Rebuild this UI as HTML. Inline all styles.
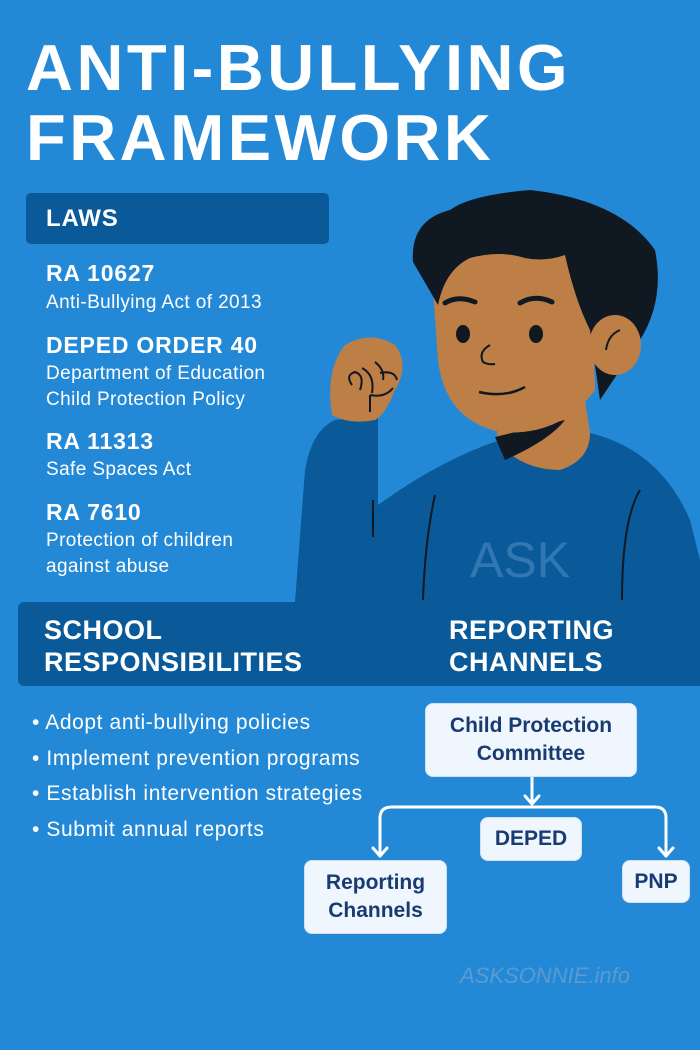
<!DOCTYPE html>
<html><head><meta charset="utf-8"><style>
body{margin:0;width:700px;height:1050px;overflow:hidden;background:#2389d7;font-family:"Liberation Sans",sans-serif;color:#fff;position:relative}
.a{position:absolute;white-space:nowrap}
.t{font-weight:bold;font-size:65px;left:26px;letter-spacing:3.5px}
.h{font-weight:bold;font-size:23px;letter-spacing:0.8px}
.s{font-size:19px;line-height:26px;letter-spacing:0.4px}
.box{position:absolute;background:#f0f6fd;border-radius:8px;color:#183c72;font-weight:bold;font-size:21px;text-align:center;display:flex;align-items:center;justify-content:center;line-height:28px;border:1.5px solid #cfe2f5}
</style></head><body>
<div class="a t" style="top:30px">ANTI-BULLYING</div>
<div class="a t" style="top:100px">FRAMEWORK</div>
<div class="a" style="left:26px;top:193px;width:303px;height:51px;background:#0a5a9a;border-radius:5px"></div>
<div class="a h" style="left:46px;top:205px;font-size:24px">LAWS</div>
<div class="a h" style="left:46px;top:260px">RA 10627</div>
<div class="a s" style="left:46px;top:290px">Anti-Bullying Act of 2013</div>
<div class="a h" style="left:46px;top:332px">DEPED ORDER 40</div>
<div class="a s" style="left:46px;top:361px">Department of Education<br>Child Protection Policy</div>
<div class="a h" style="left:46px;top:428px">RA 11313</div>
<div class="a s" style="left:46px;top:457px">Safe Spaces Act</div>
<div class="a h" style="left:46px;top:499px">RA 7610</div>
<div class="a s" style="left:46px;top:528px">Protection of children<br>against abuse</div>

<svg class="a" style="left:0;top:0" width="700" height="700" viewBox="0 0 700 700">
<path d="M295 602 L305 470 Q312 430 335 420 L378 415 L378 505 Q440 460 500 440 L590 433 Q660 450 690 520 L700 560 L700 602 Z" fill="#0a5a9a"/>
<path d="M496 440 Q520 470 560 470 Q590 460 590 433 L585 400 L500 420 Z" fill="#be7f46"/>
<path d="M495 437 L505 460 Q550 440 565 420 Z" fill="#101822"/>
<path d="M433 290 Q430 240 470 225 Q560 215 590 250 L595 390 Q560 437 500 432 Q445 420 438 360 Z" fill="#be7f46"/>
<path d="M413 262 Q410 220 450 210 Q470 195 530 190 Q620 200 655 250 Q665 300 640 340 L600 400 L590 330 Q575 300 565 255 Q545 262 525 258 Q500 250 470 258 Q445 270 438 305 Z" fill="#101822"/>
<ellipse cx="615" cy="345" rx="26" ry="30" fill="#be7f46"/>
<path d="M606 350 Q608 335 620 330" stroke="#101822" stroke-width="2" fill="none"/>
<path d="M445 303 Q458 295 475 302 M520 303 Q535 294 552 302" stroke="#101822" stroke-width="5" fill="none" stroke-linecap="round"/>
<ellipse cx="463" cy="334" rx="7" ry="9" fill="#101822"/><ellipse cx="536" cy="334" rx="7" ry="9" fill="#101822"/>
<path d="M490 345 Q478 352 483 362 Q488 365 495 364" stroke="#101822" stroke-width="2" fill="none"/>
<path d="M479 392 Q505 398 525 387" stroke="#101822" stroke-width="2.5" fill="none"/>
<path d="M332 415 Q325 370 345 345 Q370 330 395 345 Q410 365 395 390 Q385 415 375 420 Q350 425 332 415 Z" fill="#be7f46"/>
<path d="M352 385 Q345 375 355 372 Q365 375 360 390 M362 368 Q375 375 372 393 M375 362 Q385 370 383 380 M380 373 Q395 370 397 380 M370 395 Q385 398 393 388 M370 395 L370 412" stroke="#101822" stroke-width="2" fill="none"/>
<path d="M373 500 L373 537 M435 495 Q425 540 423 600 M640 490 Q622 520 622 600" stroke="#101822" stroke-width="2" fill="none"/>
<text x="470" y="577" fill="#3b7fb8" font-size="50" font-family="Liberation Sans" opacity="0.8">ASK</text>
</svg>

<div class="a" style="left:18px;top:602px;width:682px;height:84px;background:#0a5a9a;border-radius:6px 0 0 6px"></div>
<div class="a h" style="left:44px;top:614px;font-size:27px;line-height:32px;letter-spacing:0.5px">SCHOOL<br>RESPONSIBILITIES</div>
<div class="a h" style="left:449px;top:614px;font-size:27px;line-height:32px;letter-spacing:0.5px">REPORTING<br>CHANNELS</div>

<div class="a" style="left:32px;top:705px;font-size:21px;line-height:35.5px;letter-spacing:0.6px">• Adopt anti-bullying policies<br>• Implement prevention programs<br>• Establish intervention strategies<br>• Submit annual reports</div>

<svg class="a" style="left:0;top:0" width="700" height="1050">
<g stroke="#fff" stroke-width="3" fill="none" stroke-linecap="round" stroke-linejoin="round">
<path d="M532 776 L532 804 M525 796 L532 804 L539 796"/>
<path d="M380 856 L380 818 Q380 807 392 807 L655 807 Q666 807 666 818 L666 856"/>
<path d="M373 848 L380 856 L387 848 M659 848 L666 856 L673 848"/>
</g>
<text x="460" y="983" fill="#5a9bd0" font-size="22" font-family="Liberation Sans" font-style="italic">ASKSONNIE.info</text>
</svg>
<div class="box" style="left:425px;top:703px;width:210px;height:72px">Child Protection<br>Committee</div>
<div class="box" style="left:480px;top:817px;width:100px;height:42px">DEPED</div>
<div class="box" style="left:304px;top:860px;width:141px;height:72px">Reporting<br>Channels</div>
<div class="box" style="left:622px;top:860px;width:66px;height:41px">PNP</div>
</body></html>
